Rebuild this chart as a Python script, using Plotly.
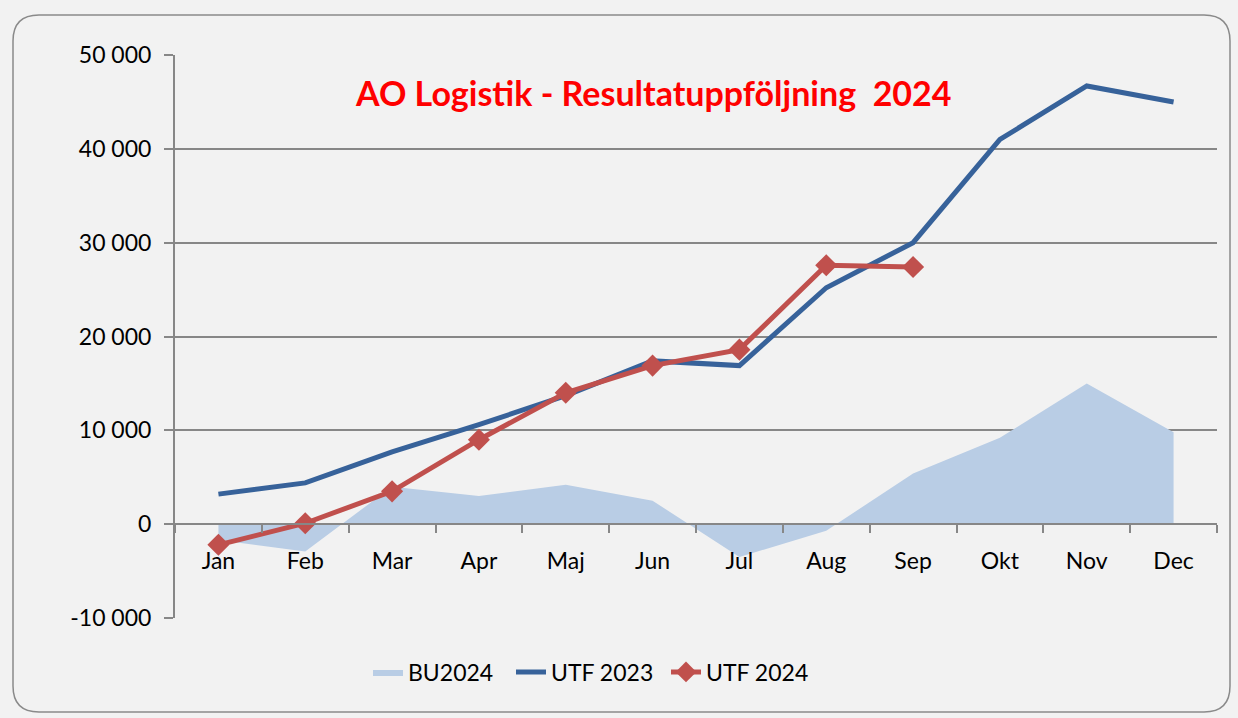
import plotly.graph_objects as go

months = ["Jan", "Feb", "Mar", "Apr", "Maj", "Jun", "Jul", "Aug", "Sep", "Okt", "Nov", "Dec"]
bu2024 = [-1700, -2900, 4000, 3000, 4200, 2500, -3500, -700, 5400, 9200, 15000, 9800]
utf2023 = [3200, 4400, 7700, 10600, 13700, 17400, 16900, 25200, 30000, 41000, 46700, 45000]
utf2024 = [-2200, 100, 3500, 9000, 14000, 16900, 18600, 27600, 27400]
ytick_vals = [-10000, 0, 10000, 20000, 30000, 40000, 50000]
ytick_text = ["-10 000", "0", "10 000", "20 000", "30 000", "40 000", "50 000"]
title = "AO Logistik - Resultatuppföljning  2024"

W, H = 1238, 718
L, R, T, B = 175, 21, 55, 100
pw, ph = W - L - R, H - T - B

def px(x):
    return (x - L) / pw

def py(y):
    return (H - B - y) / ph

FONT = "Lato"
GRID = "#878787"

fig = go.Figure()
fig.add_trace(go.Scatter(x=months, y=bu2024, name="BU2024", mode="lines",
                         fill="tozeroy", fillcolor="#b9cde5", legend="legend",
                         line=dict(width=0, color="#b9cde5")))
fig.add_trace(go.Scatter(x=months, y=utf2023, name="UTF 2023", mode="lines",
                         legend="legend2",
                         line=dict(width=5, color="#37629a")))
fig.add_trace(go.Scatter(x=months[:len(utf2024)], y=utf2024, name="UTF 2024",
                         mode="lines+markers", legend="legend3",
                         line=dict(width=5, color="#c0504d"),
                         marker=dict(symbol="diamond", size=17, color="#c0504d")))

# rounded frame
x0, x1, y0, y1, r = 13, 1230, 15, 712, 26
path = (f"M {px(x0+r)},{py(y0)} L {px(x1-r)},{py(y0)} "
        f"Q {px(x1)},{py(y0)} {px(x1)},{py(y0+r)} "
        f"L {px(x1)},{py(y1-r)} Q {px(x1)},{py(y1)} {px(x1-r)},{py(y1)} "
        f"L {px(x0+r)},{py(y1)} Q {px(x0)},{py(y1)} {px(x0)},{py(y1-r)} "
        f"L {px(x0)},{py(y0+r)} Q {px(x0)},{py(y0)} {px(x0+r)},{py(y0)} Z")
fig.add_shape(type="path", path=path, xref="paper", yref="paper",
              line=dict(color="#8a8a8a", width=1.5), layer="below")

fig.add_annotation(text=title, xref="paper", yref="paper",
                   x=px(653), y=py(92), xanchor="center", yanchor="middle",
                   showarrow=False,
                   font=dict(family=FONT, size=34, color="#ff0000", weight="bold"))

def leg(text_x):
    return dict(orientation="h", x=px(text_x - 42), xanchor="left",
                y=py(672), yanchor="middle",
                font=dict(family=FONT, size=23, color="#000000"),
                bgcolor="rgba(0,0,0,0)", borderwidth=0)

zero_pos = py(524)
fig.update_layout(
    width=W, height=H,
    margin=dict(l=L, r=R, t=T, b=B),
    paper_bgcolor="#f2f2f2", plot_bgcolor="#f2f2f2",
    font=dict(family=FONT, size=23, color="#000000"),
    showlegend=True,
    legend=leg(410), legend2=leg(553), legend3=leg(708),
    xaxis=dict(type="category", range=[-0.5, 11.5], anchor="free",
               position=zero_pos, showgrid=False, zeroline=False,
               showline=True, linecolor=GRID, linewidth=2,
               ticks="outside", tickson="boundaries", ticklen=8,
               tickcolor=GRID, tickwidth=2, ticklabelstandoff=16,
               tickfont=dict(family=FONT, size=23)),
    yaxis=dict(range=[-10000, 50000], tickvals=ytick_vals, ticktext=ytick_text,
               showgrid=True, gridcolor=GRID, gridwidth=2, zeroline=False,
               showline=True, linecolor=GRID, linewidth=2,
               ticks="outside", ticklen=9, tickcolor=GRID, tickwidth=2,
               ticklabelstandoff=8, tickfont=dict(family=FONT, size=23)),
)

fig.write_html("out.html", config={"displayModeBar": False},
               post_script="document.body.style.margin='0';")
